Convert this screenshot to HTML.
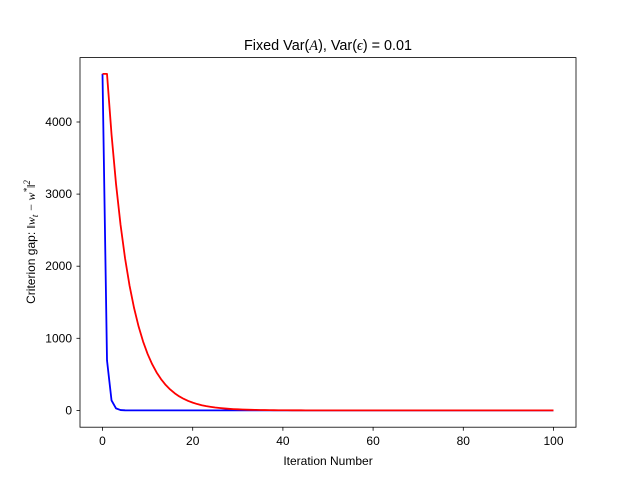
<!DOCTYPE html>
<html><head><meta charset="utf-8"><style>
body{margin:0;background:#fff;}
svg text{font-family:"Liberation Sans","DejaVu Sans",sans-serif;}
</style></head><body>
<svg id="chart" width="640" height="480" xmlns="http://www.w3.org/2000/svg">
<rect width="640" height="480" fill="#fff"/>
<text x="328" y="50" font-size="14.4" text-anchor="middle">Fixed Var(<tspan font-style="italic" font-family="Liberation Serif">A</tspan>), Var(<tspan font-style="italic" font-family="Liberation Serif">ϵ</tspan>) = 0.01</text>
<g id="plot"></g>
<rect x="80" y="57.6" width="496" height="369.6" fill="none" stroke="#000" stroke-width="0.8"/>
<text x="328" y="465" font-size="12" text-anchor="middle">Iteration Number</text>
<text transform="translate(35,242) rotate(-90)" font-size="12" text-anchor="middle">Criterion gap: <tspan font-family="Liberation Serif" font-style="italic">‖w<tspan font-size="9" dy="3">t</tspan><tspan dy="-3"> − w</tspan><tspan font-size="9" dy="-5">*</tspan><tspan dy="5">‖</tspan><tspan font-size="9" dy="-5">2</tspan></tspan></text>
</svg>
<script>
const xTicks=[0,20,40,60,80,100];
const yTicks=[0,1000,2000,3000,4000];
const blueSeries=[4667,694,139,28,5,1,0.2,0,0,0,0,0,0,0,0,0,0,0,0,0,0,0,0,0,0,0,0,0,0,0,0,0,0,0,0,0,0,0,0,0,0,0,0,0,0,0,0,0,0,0,0,0,0,0,0,0,0,0,0,0,0,0,0,0,0,0,0,0,0,0,0,0,0,0,0,0,0,0,0,0,0,0,0,0,0,0,0,0,0,0,0,0,0,0,0,0,0,0,0,0,0];
const redSeries=[4667,4667,3830,3140,2575,2110,1730,1420,1165,955,783,642,526,432,354,290,238,195,160,131,108,88,72,59,49,40,33,27,22,18,15,12,10,8,7,5.5,4.5,3.7,3,2.5,2,1.6,1.3,1.1,0.9,0.7,0.6,0.5,0.4,0.3,0.3,0.2,0.2,0.1,0.1,0.1,0.1,0,0,0,0,0,0,0,0,0,0,0,0,0,0,0,0,0,0,0,0,0,0,0,0,0,0,0,0,0,0,0,0,0,0,0,0,0,0,0,0,0,0,0,0];
const xs=v=>102.5+v*4.51;
const ys=v=>410.4-v*0.0721;
const g=document.getElementById('plot');
const NS='http://www.w3.org/2000/svg';
function mk(t,a){const e=document.createElementNS(NS,t);for(const k in a)e.setAttribute(k,a[k]);return e;}
xTicks.forEach(t=>{
 const l=mk('line',{x1:xs(t),x2:xs(t),y1:427.2,y2:430.7,stroke:'#000','stroke-width':0.8});
 
 
 g.appendChild(l);
 const tx=mk('text',{x:xs(t),y:445,'font-size':12,'text-anchor':'middle','font-family':'Liberation Serif'});
 tx.textContent=t;
 
 
 g.appendChild(tx);
});
yTicks.forEach(t=>{
 const l=mk('line',{x1:76.5,x2:80,y1:ys(t),y2:ys(t),stroke:'#000','stroke-width':0.8});
 
 
 g.appendChild(l);
 const tx=mk('text',{x:72,y:ys(t)+4,'font-size':12,'text-anchor':'end','font-family':'Liberation Serif'});
 tx.textContent=t;
 
 
 g.appendChild(tx);
});
function line(arr,color,name){
 const p=mk('polyline',{points:arr.map((v,i)=>xs(i)+','+ys(v)).join(' '),fill:'none',stroke:color,'stroke-width':1.8,'stroke-linejoin':'round'});
 
 
 g.appendChild(p);
}
line(blueSeries,'#0000ff','blue-series-line');
line(redSeries,'#ff0000','red-series-line');
</script>
</body></html>
